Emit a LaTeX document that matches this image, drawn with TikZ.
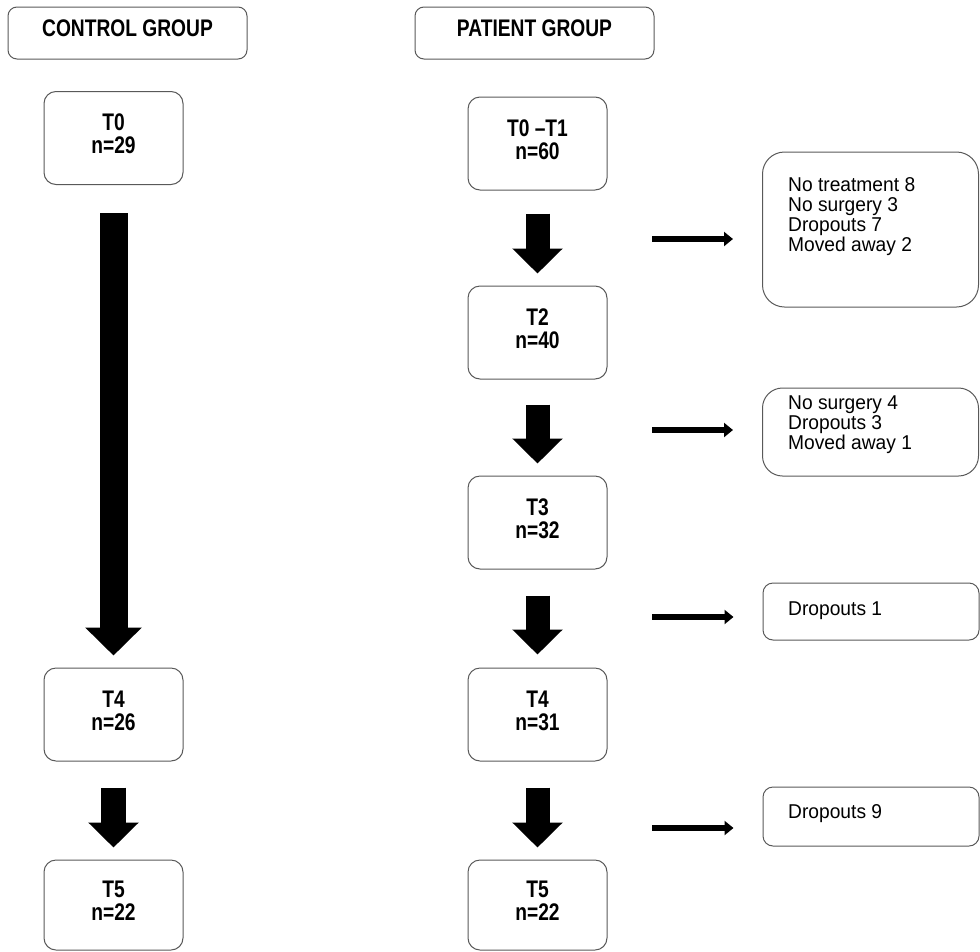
\documentclass[tikz,border=0pt]{standalone}
\usepackage{fontspec}
\setmainfont{Liberation Sans}
\newfontfamily\hdfont[FakeStretch=0.80]{Liberation Sans}
\newfontfamily\sdfont[FakeStretch=0.96]{Liberation Sans}
\usetikzlibrary{arrows.meta,calc}
\begin{document}
\begin{tikzpicture}[x=1pt,y=-1pt,
  mainbox/.style={draw=black!65, line width=1pt, rounded corners=12pt,
    font=\hdfont\bfseries\fontsize{24}{23}\selectfont, align=center, inner sep=0pt,
    minimum width=139pt, minimum height=93pt, text depth=8pt},
  headbox/.style={mainbox, rounded corners=9pt, minimum width=239pt, minimum height=52pt, text depth=10pt},
  sidebox/.style={draw=black!65, line width=1pt, inner sep=0pt, minimum width=216pt},
  sidetext/.style={font=\sdfont\fontsize{20}{20}\selectfont, align=left, inner sep=0pt, anchor=west},
  blockarrow/.style={line width=24pt, -{Triangle[width=49pt,length=25pt]}},
  longarrow/.style={line width=28pt, -{Triangle[width=55pt,length=28pt]}},
  sidearrow/.style={line width=6pt, -{Triangle[width=14pt,length=9pt]}}]
\useasboundingbox (0,0) rectangle (980,951);

% headers
\node[headbox] (ch) at (127.5,33) {CONTROL GROUP};
\node[headbox] (ph) at (534.5,33) {PATIENT GROUP};

% control column
\node[mainbox] (c0) at (113.5,138) {T0\\n=29};
\node[mainbox] (c4) at (113.5,714.5) {T4\\n=26};
\node[mainbox, minimum height=90pt] (c5) at (113.5,905) {T5\\n=22};

% patient column
\node[mainbox] (p0) at (537.5,143.5) {T0 –T1\\n=60};
\node[mainbox] (p2) at (537.5,332.5) {T2\\n=40};
\node[mainbox] (p3) at (537.5,522.5) {T3\\n=32};
\node[mainbox] (p4) at (537.5,714.5) {T4\\n=31};
\node[mainbox, minimum height=90pt] (p5) at (537.5,905) {T5\\n=22};

% side boxes
\node[sidebox, rounded corners=22pt, minimum height=155pt] (s1) at (870.5,229.5) {};
\node[sidebox, rounded corners=20pt, minimum height=88pt] (s2) at (870.5,432) {};
\node[sidebox, rounded corners=10pt, minimum height=57pt] (s3) at (871,611.5) {};
\node[sidebox, rounded corners=10pt, minimum height=59pt] (s4) at (871,816.5) {};

\node[sidetext] (t1) at (788,217) {No treatment 8\\No surgery 3\\Dropouts 7\\Moved away 2};
\node[sidetext] (t2) at (788,425) {No surgery 4\\Dropouts 3\\Moved away 1};
\node[sidetext] (t3) at (788,611) {Dropouts 1};
\node[sidetext] (t4) at (788,814) {Dropouts 9};

% block arrows
\draw[longarrow, shorten <=28pt, shorten >=12pt] (c0) -- (c4);
\draw[blockarrow, line width=25pt, shorten <=26pt, shorten >=12pt] (c4) -- (c5);
\draw[blockarrow, shorten <=23pt, shorten >=12pt] (p0) -- (p2);
\draw[blockarrow, shorten <=25pt, shorten >=12pt] (p2) -- (p3);
\draw[blockarrow, shorten <=26pt, shorten >=13pt] (p3) -- (p4);
\draw[blockarrow, shorten <=26pt, shorten >=12pt] (p4) -- (p5);

% side arrows
\coordinate (a1) at (652,239);
\coordinate (a2) at (652,430);
\coordinate (a3) at (652,617);
\coordinate (a4) at (652,828);
\draw[sidearrow, shorten >=29pt] (a1) -- (a1 -| s1.west);
\draw[sidearrow, shorten >=29pt] (a2) -- (a2 -| s2.west);
\draw[sidearrow, shorten >=29pt] (a3) -- (a3 -| s3.west);
\draw[sidearrow, shorten >=29pt] (a4) -- (a4 -| s4.west);
\end{tikzpicture}
\end{document}
